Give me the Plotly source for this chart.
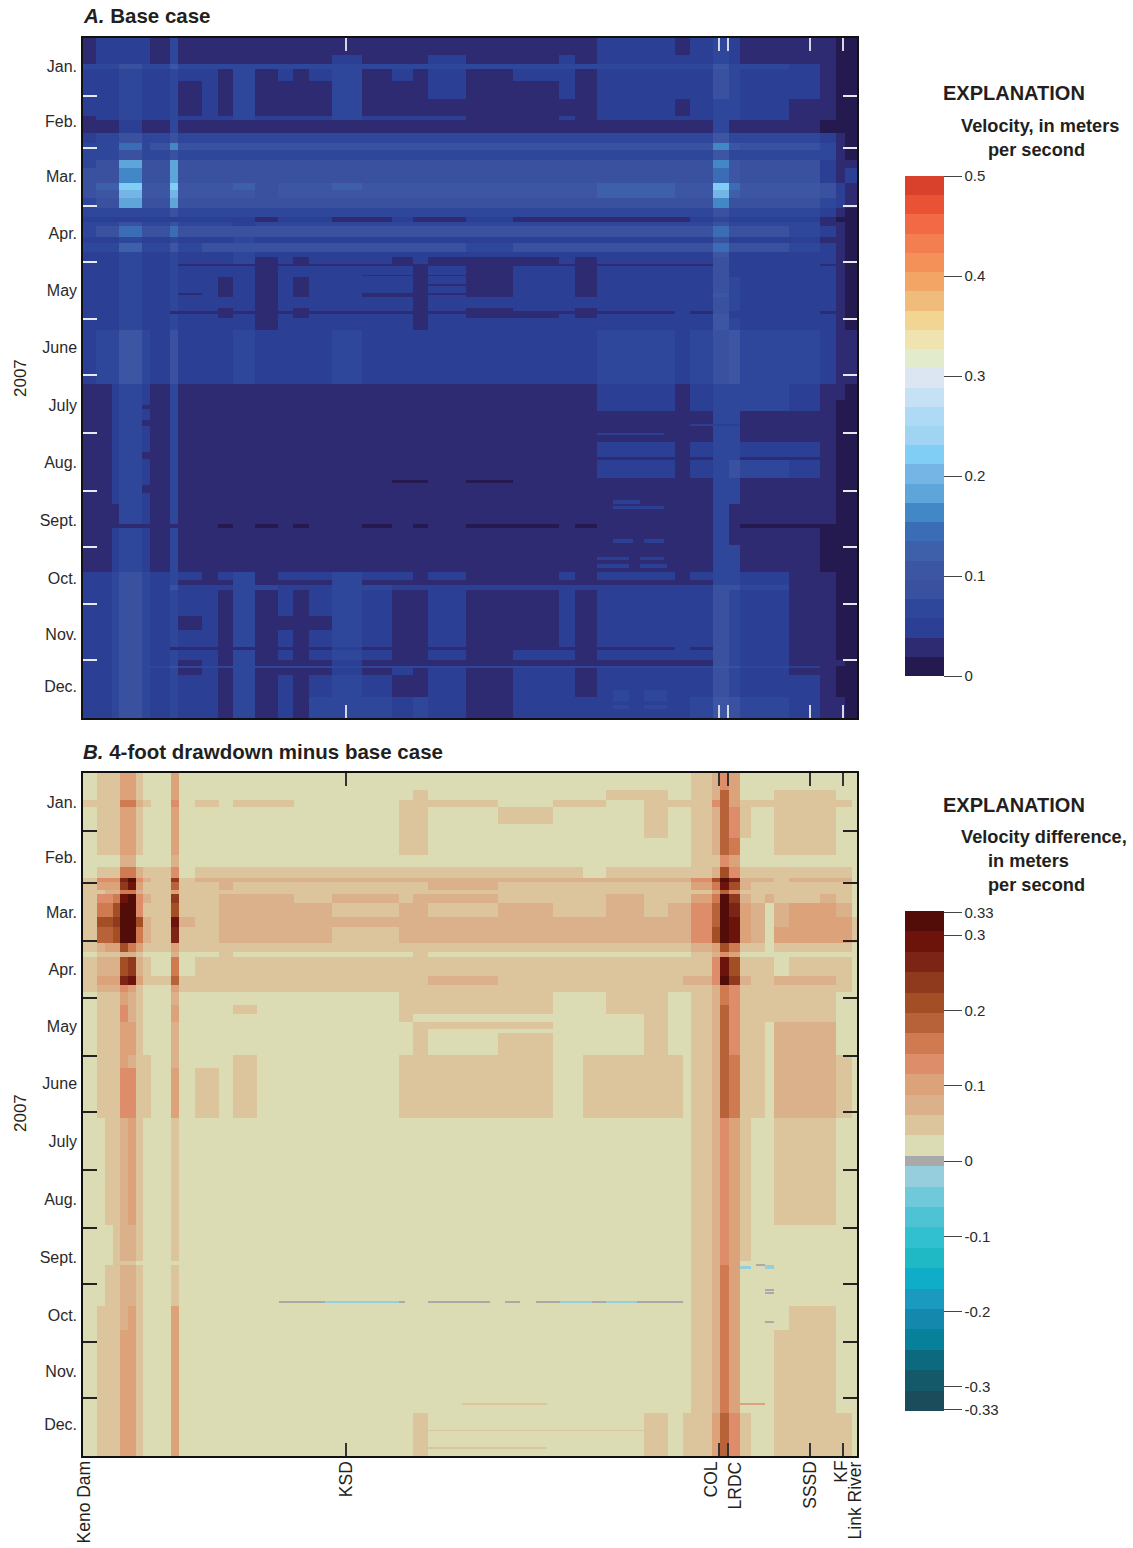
import plotly.graph_objects as go

W, H = 1133, 1548
FONT = "Liberation Sans"

MONTHS = ["Jan.", "Feb.", "Mar.", "Apr.", "May", "June", "July", "Aug.", "Sept.", "Oct.", "Nov.", "Dec."]
MONTH_MID = [15.5, 45, 74.5, 105, 135.5, 166, 197, 228, 259, 290, 320, 348]
MONTH_END = [31, 59, 90, 120, 151, 181, 212, 243, 273, 304, 334]
SITE_TICKS = [34.0, 82.2, 83.3, 93.9, 98.2]
SITE_LABELS = [("Keno Dam", 0.0), ("KSD", 34.0), ("COL", 81.2), ("LRDC", 84.3), ("SSSD", 93.9), ("KF", 97.9), ("Link River", 99.8)]

# ---------- panel A: velocity classes (base-36 digit), by river segment and day
A_SEG = [0, 1.7, 3.7, 4.7, 7.6, 8.7, 11.2, 12.3, 15.4, 17.4, 19.4, 22.2, 25.2, 27.1, 29.2, 32.2, 36, 39.9,
         42.6, 44.6, 49.5, 55.6, 61.5, 63.6, 66.4, 76.5, 78.4, 81.4, 83.5, 84.9, 91.2, 95.2, 97.3, 98.4, 100]
A_DAY = [0, 9, 14, 16.5, 23, 32.5, 42, 44, 51, 56.5, 60, 65.5, 70, 78, 81.5, 86, 91.5, 96, 99, 101, 107, 110, 115,
         117.5, 121.5, 122.5, 128.5, 137, 139, 145, 146.5, 148, 150.5, 156.5, 185.5, 194.5, 200, 217, 225, 226.5, 236,
         237.5, 239, 250, 261, 263, 272, 286.5, 291, 293.5, 296.5, 310, 318, 327, 328.5, 334, 337, 338, 342, 353.5, 365]
A_CLASS = [
 "12222 13111 11111 11111 11112 12321 1100",
 "12222 13111 11111 21112 11212 22321 1100",
 "33343 35333 33333 33333 33333 33533 2100",
 "22232 23221 31212 31212 12212 22432 2100",
 "22232 23121 31111 31112 11212 22432 2100",
 "22232 23121 31111 31111 11112 12332 1100",
 "12232 23222 32222 32222 11212 22332 1100",
 "11121 13111 11111 11111 11111 11311 1000",
 "23343 34333 33333 33333 33333 33533 3210",
 "33373 48444 44444 44444 44444 44854 4310",
 "33343 34333 33333 33333 33333 33533 3310",
 "34494 49444 44444 44444 44444 44854 4211",
 "44484 49444 44444 44444 44444 44754 4212",
 "466b5 5b555 64555 65555 55556 55b75 5421",
 "455a5 5a555 54555 55555 55556 55a65 5421",
 "34494 49444 44444 44444 44444 44844 4321",
 "33333 34333 33333 33333 33333 33433 3210",
 "22222 22222 21222 11211 21111 12322 2100",
 "33343 34333 23333 33333 33333 33433 3110",
 "34474 47444 44444 44444 44444 44744 3210",
 "22232 23222 32222 22222 22222 22422 2110",
 "33363 35344 44444 44444 34444 44744 3210",
 "22232 23222 32222 22222 22222 22522 2210",
 "22232 23222 31212 22121 11212 22422 2210",
 "22232 23111 11111 11111 11111 11422 2110",
 "22232 23222 21222 22212 12212 22422 2210",
 "22232 23221 21212 22212 12212 22432 2210",
 "22232 23221 21212 21112 12212 22532 2210",
 "22232 23222 21222 22212 22222 22432 2210",
 "22232 23221 21212 22212 12212 22432 2210",
 "22232 21111 11111 11111 11111 21422 2110",
 "22232 23221 21212 22212 11212 22522 2210",
 "22232 23222 21222 22212 22222 22532 2210",
 "23353 24222 32222 32222 22223 23453 3211",
 "11232 13111 11111 11111 11112 12333 2110",
 "11232 13111 11111 11111 11112 12333 2100",
 "11232 13111 11111 11111 11111 11331 1100",
 "11232 13111 11111 11111 11112 12332 2100",
 "11232 13111 11111 11111 11111 11331 1100",
 "11232 13111 11111 11111 11112 12343 2100",
 "11232 13111 11111 11111 11111 11331 1100",
 "11232 13111 11111 11001 01111 11331 1100",
 "11232 13111 11111 11111 11111 11331 1100",
 "11132 13111 11111 11111 11111 11311 1100",
 "11111 11110 10101 10101 00101 11310 0000",
 "11232 13111 11111 11111 11111 11311 1000",
 "11232 13111 11111 11111 11111 11331 1000",
 "22343 23212 31222 32212 11212 12332 1100",
 "22343 23111 31111 31111 11111 11332 1100",
 "22343 24222 33222 33222 22222 22443 1100",
 "22343 23221 31212 32112 11212 22432 1100",
 "22343 23121 31111 32112 11212 22432 1100",
 "22343 23221 31212 32112 11212 22432 1100",
 "22343 21111 11111 21111 11111 21432 1100",
 "22343 23221 31212 32112 12212 22432 1100",
 "22343 23121 31111 21111 11111 11432 1110",
 "22343 34333 33333 33333 33333 33543 2100",
 "22343 23121 31111 21212 12212 22432 1100",
 "22343 23221 31212 32112 12212 22432 2100",
 "22343 23221 31213 33232 12222 23543 2110",
]
A_STREAK = [
 (137, 137.8, 12.3, 15.4, 0.029), (137, 137.8, 36, 49.5, 0.029), (132, 133, 44.6, 55.6, 0.029),
 (127, 128, 36, 49.5, 0.029), (248, 250, 68.5, 72, 0.048), (251, 253, 68.5, 75, 0.048),
 (269, 271, 68.5, 71, 0.048), (269, 271, 72.5, 75, 0.048), (278.5, 280, 66.4, 70.5, 0.048),
 (278.5, 280, 72, 75, 0.048), (282.5, 284.5, 66.4, 70.5, 0.048), (282.5, 284.5, 72, 75.5, 0.048),
 (212, 213, 66.4, 75, 0.048), (207, 208, 78.4, 84.9, 0.048), (350, 356, 68.5, 70.5, 0.067),
 (350, 356, 72.5, 75.5, 0.067), (358, 360, 68.5, 70.5, 0.067), (358, 360, 72.5, 75.5, 0.067),
 (197, 199, 7.6, 8.7, 0.029), (205, 208, 7.6, 8.7, 0.029), (222, 226, 7.6, 8.7, 0.029),
 (240, 244, 7.6, 8.7, 0.029),
]
A_COLORS = ["#241a4f", "#2f2b73", "#2b3f94", "#2e479b", "#3a51a0", "#3c56a3", "#3e5fa9", "#3a6db5", "#4287c6",
            "#5ea6d9", "#74b5e5", "#80cef5", "#a0d4f2", "#aedaf5", "#c6e0f4", "#dce6f2", "#e2ebcc", "#efe4b0",
            "#f2d592", "#f0bc7c", "#f2a564", "#f49159", "#f37e4f", "#f26a45", "#ea5236", "#d9412d"]
A_TICKS = [0, 0.1, 0.2, 0.3, 0.4, 0.5]

# ---------- panel B: velocity-difference classes
B_SEG = [0, 1.8, 2.8, 3.9, 4.8, 5.8, 6.8, 7.7, 8.8, 11.4, 12.4, 14.5, 17.6, 19.4, 22.5, 27.3, 32.2, 40.8, 42.6, 44.6,
         53.6, 60.7, 64.6, 67.6, 72.5, 75.6, 77.5, 78.5, 81.3, 82.3, 83.5, 84.9, 86.3, 88.1, 89.3, 91.2, 95.2, 97.3,
         99.4, 100]
B_DAY = [0, 9, 14.5, 18, 27, 35, 44, 50, 56, 58.5, 62.5, 64.5, 69.5, 77, 82.5, 91, 95.5, 98.5, 108.5, 113.5, 117, 124,
         129, 133, 137, 139, 150.5, 157.5, 184.5, 241.5, 261, 263, 285, 297.5, 342, 365]
B_CLASS = [
 "011133 10030 00000 00000 00000 01243 00000 000",
 "011133 10030 00000 00100 00110 01263 00011 100",
 "111155 21040 10110 01110 11011 11463 11111 110",
 "011133 10030 00000 01101 00010 01264 10011 100",
 "011133 10030 00000 01100 00010 01264 10011 100",
 "011133 10030 00000 01100 00000 01265 00011 100",
 "000022 00020 00000 00000 00000 01143 00000 000",
 "011155 21140 11111 11111 10111 11274 11111 110",
 "14449b 42181 22222 22222 22222 247b9 22212 220",
 "13338a 31161 12111 11121 11111 135a7 21111 110",
 "112255 21131 11111 11111 11111 11364 11111 110",
 "1445ab 42181 12221 21221 11211 135b8 21211 210",
 "1557bb 41171 12222 12212 11212 246b9 32023 320",
 "1778bb 721a2 12222 22222 22222 246ba 32023 331",
 "1667bb 52191 12222 12222 22222 247ba 32033 331",
 "123375 31131 11111 11111 11111 12375 11011 110",
 "011122 10020 01000 00100 00000 01243 00000 000",
 "122278 21050 11111 11111 11111 114a7 11101 110",
 "13339a 31161 11111 11121 11111 224b8 21122 210",
 "122243 10031 11111 11111 11111 11254 11111 110",
 "011132 10020 00000 01111 00110 01254 11111 100",
 "011142 10030 00100 01111 00110 01264 11111 100",
 "011142 10030 00000 01000 00010 01264 11111 100",
 "011133 10020 00000 00111 00010 01264 11022 200",
 "011133 10020 00000 00100 00010 01264 11022 200",
 "011133 10020 00000 00101 00010 01264 11022 200",
 "011132 11020 00100 01111 01111 01265 11022 210",
 "011144 11030 10100 01111 01111 01265 11022 210",
 "001123 10010 00000 00000 00000 01243 10011 100",
 "000122 10010 00000 00000 00000 01243 10000 000",
 "000111 00000 00000 00000 00000 01243 00000 000",
 "001122 10010 00000 00000 00000 01253 00000 000",
 "011123 10030 00000 00000 00000 01253 00001 100",
 "011133 10030 00000 00000 00000 01253 00011 100",
 "011133 10030 00000 00100 00010 11364 10011 110",
]
B_COLORS = ["#1b4c5c", "#14596a", "#0c6a80", "#078099", "#1589ad", "#1a9abf", "#0fadc8", "#1fb9c6", "#30c0d0",
            "#4ec3d3", "#70c9d8", "#97cedd", "#a9a9a9", "#dbdcb4", "#dcc49c", "#dab18a", "#dca37b", "#dd8d69",
            "#cf7a50", "#b8623a", "#a34e24", "#8f391d", "#7c2415", "#6c140b", "#520d08"]
B_TICKS = [-0.33, -0.3, -0.2, -0.1, 0, 0.1, 0.2, 0.3, 0.33]
# thin streaks: day from, day to, segment from, segment to, value
B_STREAK = [
 (282, 283, 25.3, 31.3, 0.0), (282, 283, 31.3, 40.8, -0.02), (282, 283, 40.8, 41.6, 0.0),
 (282, 283, 44.6, 52.6, 0.0), (282, 283, 54.5, 56.5, 0.0), (282, 283, 58.5, 61.6, 0.0),
 (282, 283, 61.6, 65.8, -0.02), (282, 283, 65.8, 67.6, 0.0), (282, 283, 67.6, 71.6, -0.02),
 (282, 283, 71.6, 77.5, 0.0), (263.3, 264.8, 84.9, 86.3, -0.02), (262.6, 263.4, 87.0, 88.1, 0.0),
 (263.0, 264.8, 88.1, 89.3, -0.02), (275.6, 276.6, 88.1, 89.3, 0.0), (277.4, 278.4, 88.1, 89.3, 0.0),
 (293, 294, 88.1, 89.3, 0.0), (336.5, 338, 84.9, 88.1, 0.1),
 (351, 351.8, 44.6, 75, 0.0475), (360, 361, 44.6, 60, 0.0475), (336.7, 337.7, 49, 60, 0.0475),
]
LIMIT_A = 0.5
LIMIT_B = 0.332
ZERO_HALF = 0.0069


def rows_to_grid(seg, day, classes, value_of, streaks=()):
    xs = sorted(set(seg) | {s[2] for s in streaks} | {s[3] for s in streaks})
    ys = sorted(set(day) | {s[0] for s in streaks} | {s[1] for s in streaks})
    z = []
    for j in range(len(ys) - 1):
        ym = (ys[j] + ys[j + 1]) / 2
        r = max(i for i in range(len(day) - 1) if day[i] <= ym)
        row = classes[r].replace(" ", "")
        assert len(row) == len(seg) - 1, (classes[r], len(row), len(seg) - 1)
        line = []
        for i in range(len(xs) - 1):
            xm = (xs[i] + xs[i + 1]) / 2
            c = max(k for k in range(len(seg) - 1) if seg[k] <= xm)
            v = value_of(int(row[c], 36))
            for s in streaks:
                if s[0] <= ym < s[1] and s[2] <= xm < s[3]:
                    v = s[4]
            line.append(v)
        z.append(line)
    return xs, ys, z


def stepscale(edges, colors, lo, hi):
    out = []
    for i, c in enumerate(colors):
        out.append([(edges[i] - lo) / (hi - lo), c])
        out.append([(edges[i + 1] - lo) / (hi - lo), c])
    return out


stepA = LIMIT_A / len(A_COLORS)
edgesA = [i * stepA for i in range(len(A_COLORS) + 1)]
stepB = (LIMIT_B - ZERO_HALF) / 12
edgesB = [-LIMIT_B + i * stepB for i in range(12)] + [-ZERO_HALF, ZERO_HALF] + \
         [ZERO_HALF + (i + 1) * stepB for i in range(12)]
edgesB[-1] = LIMIT_B

xa, ya, za = rows_to_grid(A_SEG, A_DAY, A_CLASS, lambda k: (k + 0.5) * stepA, A_STREAK)
xb, yb, zb = rows_to_grid(B_SEG, B_DAY, B_CLASS, lambda k: ZERO_HALF + (k + 0.5) * stepB, B_STREAK)

px_x = lambda p: p / W
px_y = lambda p: 1 - p / H


def cbar(top, ticks, fmt):
    return dict(x=px_x(905), xanchor="left", y=px_y(top), yanchor="top", lenmode="pixels", len=499.5,
                thicknessmode="pixels", thickness=39, xpad=0, ypad=0, outlinewidth=0, ticks="outside", ticklen=18,
                tickwidth=1.3, tickcolor="#444444", tickvals=ticks, ticktext=fmt,
                tickfont=dict(family=FONT, size=15, color="#2a2a2a"))


fig = go.Figure()
fig.add_trace(go.Heatmap(x=xa, y=ya, z=za, xaxis="x", yaxis="y", zmin=0, zmax=LIMIT_A, hoverinfo="skip",
                         colorscale=stepscale(edgesA, A_COLORS, 0, LIMIT_A),
                         colorbar=cbar(176, A_TICKS, ["0", "0.1", "0.2", "0.3", "0.4", "0.5"])))
fig.add_trace(go.Heatmap(x=xb, y=yb, z=zb, xaxis="x2", yaxis="y2", zmin=-LIMIT_B, zmax=LIMIT_B, hoverinfo="skip",
                         colorscale=stepscale(edgesB, B_COLORS, -LIMIT_B, LIMIT_B),
                         colorbar=cbar(911, B_TICKS, [str(t) for t in B_TICKS])))


def xaxis(anchor, color):
    return dict(domain=[px_x(83), px_x(857)], range=[0, 100], anchor=anchor, tickmode="array", tickvals=SITE_TICKS,
                ticks="inside", ticklen=13, tickwidth=1.5, tickcolor=color, showticklabels=False, showgrid=False,
                zeroline=False, showline=True, linecolor="#111111", linewidth=1.5, mirror="allticks", layer="above traces")


def yaxis(anchor, top, bottom, color):
    return dict(domain=[px_y(bottom), px_y(top)], range=[365, 0], anchor=anchor, tickmode="array", tickvals=MONTH_MID,
                ticktext=MONTHS, ticks="", showgrid=False, zeroline=False, showline=True, linecolor="#111111",
                linewidth=1.5, mirror="allticks", layer="above traces", ticklabelstandoff=1,
                tickfont=dict(family=FONT, size=16, color="#2a2a2a"),
                minor=dict(tickmode="array", tickvals=MONTH_END, ticks="inside", ticklen=14, tickwidth=1.5,
                           tickcolor=color, showgrid=False))


fig.update_layout(width=W, height=H, margin=dict(l=0, r=0, t=0, b=0, autoexpand=False), paper_bgcolor="white",
                  plot_bgcolor="white", showlegend=False,
                  xaxis=xaxis("y", "#d5d7e5"), yaxis=yaxis("x", 38, 718, "#e8e8f0"),
                  xaxis2=xaxis("y2", "#333333"), yaxis2=yaxis("x2", 773, 1456, "#222222"))


def note(text, x, y, size, xanchor="left", yanchor="middle", angle=0):
    fig.add_annotation(text=text, xref="paper", yref="paper", x=px_x(x), y=px_y(y), xanchor=xanchor, yanchor=yanchor,
                       showarrow=False, textangle=angle, align="left",
                       font=dict(family=FONT, size=size, color="#231f20"))


note("<b><i>A.</i> Base case</b>", 81, 16, 20.5)
note("<b><i>B.</i> 4-foot drawdown minus base case</b>", 81, 751, 20.5)
note("2007", 20, 378, 17, "center", "middle", -90)
note("2007", 20, 1113, 17, "center", "middle", -90)
note("<b>EXPLANATION</b>", 941, 93, 20)
note("<b>Velocity, in meters</b>", 959, 126, 18.2)
note("<b>per second</b>", 986, 150, 18.2)
note("<b>EXPLANATION</b>", 941, 805, 20)
note("<b>Velocity difference,</b>", 959, 837, 18.2)
note("<b>in meters</b>", 986, 861, 18.2)
note("<b>per second</b>", 986, 885, 18.2)
for name, seg in SITE_LABELS:
    fig.add_annotation(text=name, xref="x2", yref="paper", x=seg, y=px_y(1459), xanchor="center", yanchor="top",
                       showarrow=False, textangle=-90, font=dict(family=FONT, size=17.5, color="#231f20"))

fig.write_html("out.html", config={"displayModeBar": False}, post_script="document.body.style.margin='0';")
